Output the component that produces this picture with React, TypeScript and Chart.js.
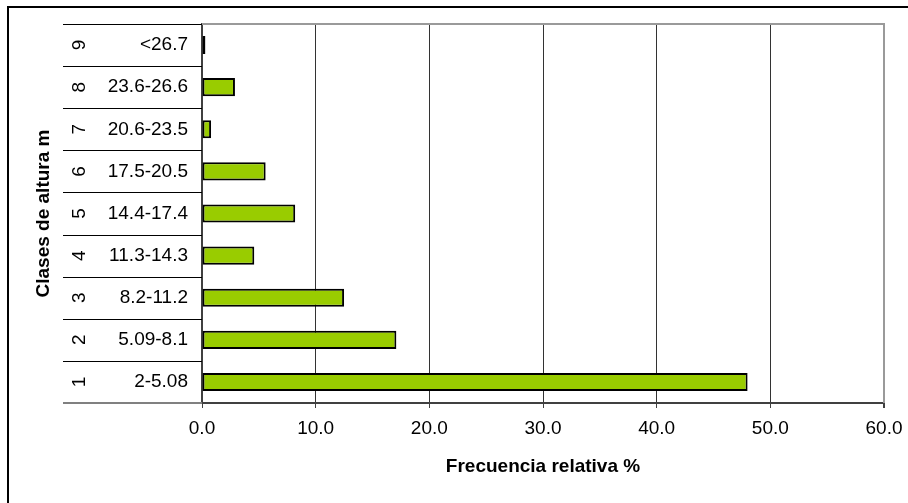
import React, { useEffect, useRef } from "react";
import { Chart, registerables } from "chart.js";

Chart.register(...registerables);

const classNumbers = ["1", "2", "3", "4", "5", "6", "7", "8", "9"];
const classRanges = [
  "2-5.08",
  "5.09-8.1",
  "8.2-11.2",
  "11.3-14.3",
  "14.4-17.4",
  "17.5-20.5",
  "20.6-23.5",
  "23.6-26.6",
  "<26.7",
];
const relativeFrequency = [48.0, 17.1, 12.5, 4.6, 8.2, 5.6, 0.8, 2.9, 0.3];
const xMin = 0;
const xMax = 60;
const xStep = 10;
const xTitle = "Frecuencia relativa %";
const yTitle = "Clases de altura m";

const FONT = '"Liberation Sans", Arial, sans-serif';

const tablePlugin = {
  id: "categoryTable",
  afterDraw(chart: any) {
    const { ctx, chartArea, scales } = chart;
    const y = scales.y;
    const n = classRanges.length;
    ctx.save();
    // outer frame
    ctx.strokeStyle = "#000";
    ctx.lineWidth = 2;
    ctx.beginPath();
    ctx.moveTo(8, 520);
    ctx.lineTo(8, 7);
    ctx.lineTo(920, 7);
    ctx.stroke();
    // plot area top/right border
    ctx.strokeStyle = "#9a9a9a";
    ctx.lineWidth = 2;
    ctx.beginPath();
    ctx.moveTo(chartArea.left, chartArea.top);
    ctx.lineTo(chartArea.right, chartArea.top);
    ctx.lineTo(chartArea.right, chartArea.bottom);
    ctx.stroke();
    // table lines
    const tableLeft = 63;
    const half = Math.abs(y.getPixelForValue(1) - y.getPixelForValue(0)) / 2;
    for (let i = 0; i < n; i++) {
      const p = y.getPixelForValue(i);
      const top = Math.round(p - half) + 0.5;
      ctx.strokeStyle = "#000";
      ctx.lineWidth = 1;
      ctx.beginPath();
      ctx.moveTo(tableLeft, top);
      ctx.lineTo(chartArea.left, top);
      ctx.stroke();
    }
    ctx.strokeStyle = "#808080";
    ctx.lineWidth = 2;
    ctx.beginPath();
    ctx.moveTo(tableLeft, chartArea.bottom);
    ctx.lineTo(chartArea.left, chartArea.bottom);
    ctx.stroke();
    // text
    ctx.fillStyle = "#000";
    ctx.font = `19px ${FONT}`;
    for (let i = 0; i < n; i++) {
      const p = y.getPixelForValue(i);
      ctx.textAlign = "right";
      ctx.textBaseline = "middle";
      ctx.fillText(classRanges[i], 188, p);
      ctx.save();
      ctx.translate(80, p);
      ctx.rotate(-Math.PI / 2);
      ctx.textAlign = "center";
      ctx.textBaseline = "middle";
      ctx.fillText(classNumbers[i], 0, 0);
      ctx.restore();
    }
    ctx.restore();
  },
};

export default function App() {
  const ref = useRef<HTMLCanvasElement | null>(null);
  useEffect(() => {
    if (!ref.current) return;
    const chart = new Chart(ref.current, {
      type: "bar",
      data: {
        labels: classRanges,
        datasets: [
          {
            data: relativeFrequency,
            backgroundColor: "#99CC00",
            borderColor: "#000000",
            borderWidth: 2,
            borderSkipped: false,
            categoryPercentage: 1,
            barPercentage: 0.43,
          },
        ],
      },
      options: {
        indexAxis: "y",
        animation: false,
        responsive: false,
        devicePixelRatio: 1,
        layout: { padding: { top: 24, right: 24, left: 0, bottom: 0 } },
        plugins: {
          legend: { display: false },
          tooltip: { enabled: false },
          title: { display: false },
        },
        scales: {
          x: {
            type: "linear",
            min: xMin,
            max: xMax,
            afterFit: (s: any) => {
              s.height = 100;
              s.paddingRight = 0;
              s.paddingLeft = 0;
            },
            ticks: {
              stepSize: xStep,
              color: "#000",
              padding: 9,
              font: { family: FONT, size: 19 },
              callback: (v: any) => Number(v).toFixed(1),
            },
            grid: {
              color: (c: any) => (c.tick && c.tick.value === xMax ? "#9a9a9a" : "#333333"),
              lineWidth: (c: any) => (c.tick && c.tick.value === xMax ? 2 : 1),
              tickLength: 5,
              tickColor: "#404040",
            },
            border: { display: true, color: "#404040", width: 2 },
            title: {
              display: true,
              text: xTitle,
              color: "#000",
              font: { family: FONT, size: 19, weight: "bold" },
              padding: { top: 0, bottom: 25 },
            },
          },
          y: {
            type: "category",
            reverse: true,
            afterFit: (s: any) => {
              s.width = 202;
            },
            ticks: { display: false },
            grid: { display: false },
            border: { display: true, color: "#404040", width: 2 },
            title: {
              display: true,
              text: yTitle,
              color: "#000",
              font: { family: FONT, size: 19, weight: "bold" },
              padding: { top: 32, bottom: 0 },
            },
          },
        },
      },
      plugins: [tablePlugin],
    } as any);
    return () => chart.destroy();
  }, []);
  return (
    <div style={{ position: "absolute", left: 0, top: 0, width: 908, height: 503, background: "#fff" }}>
      <canvas ref={ref} width={908} height={503} style={{ display: "block" }} />
    </div>
  );
}
